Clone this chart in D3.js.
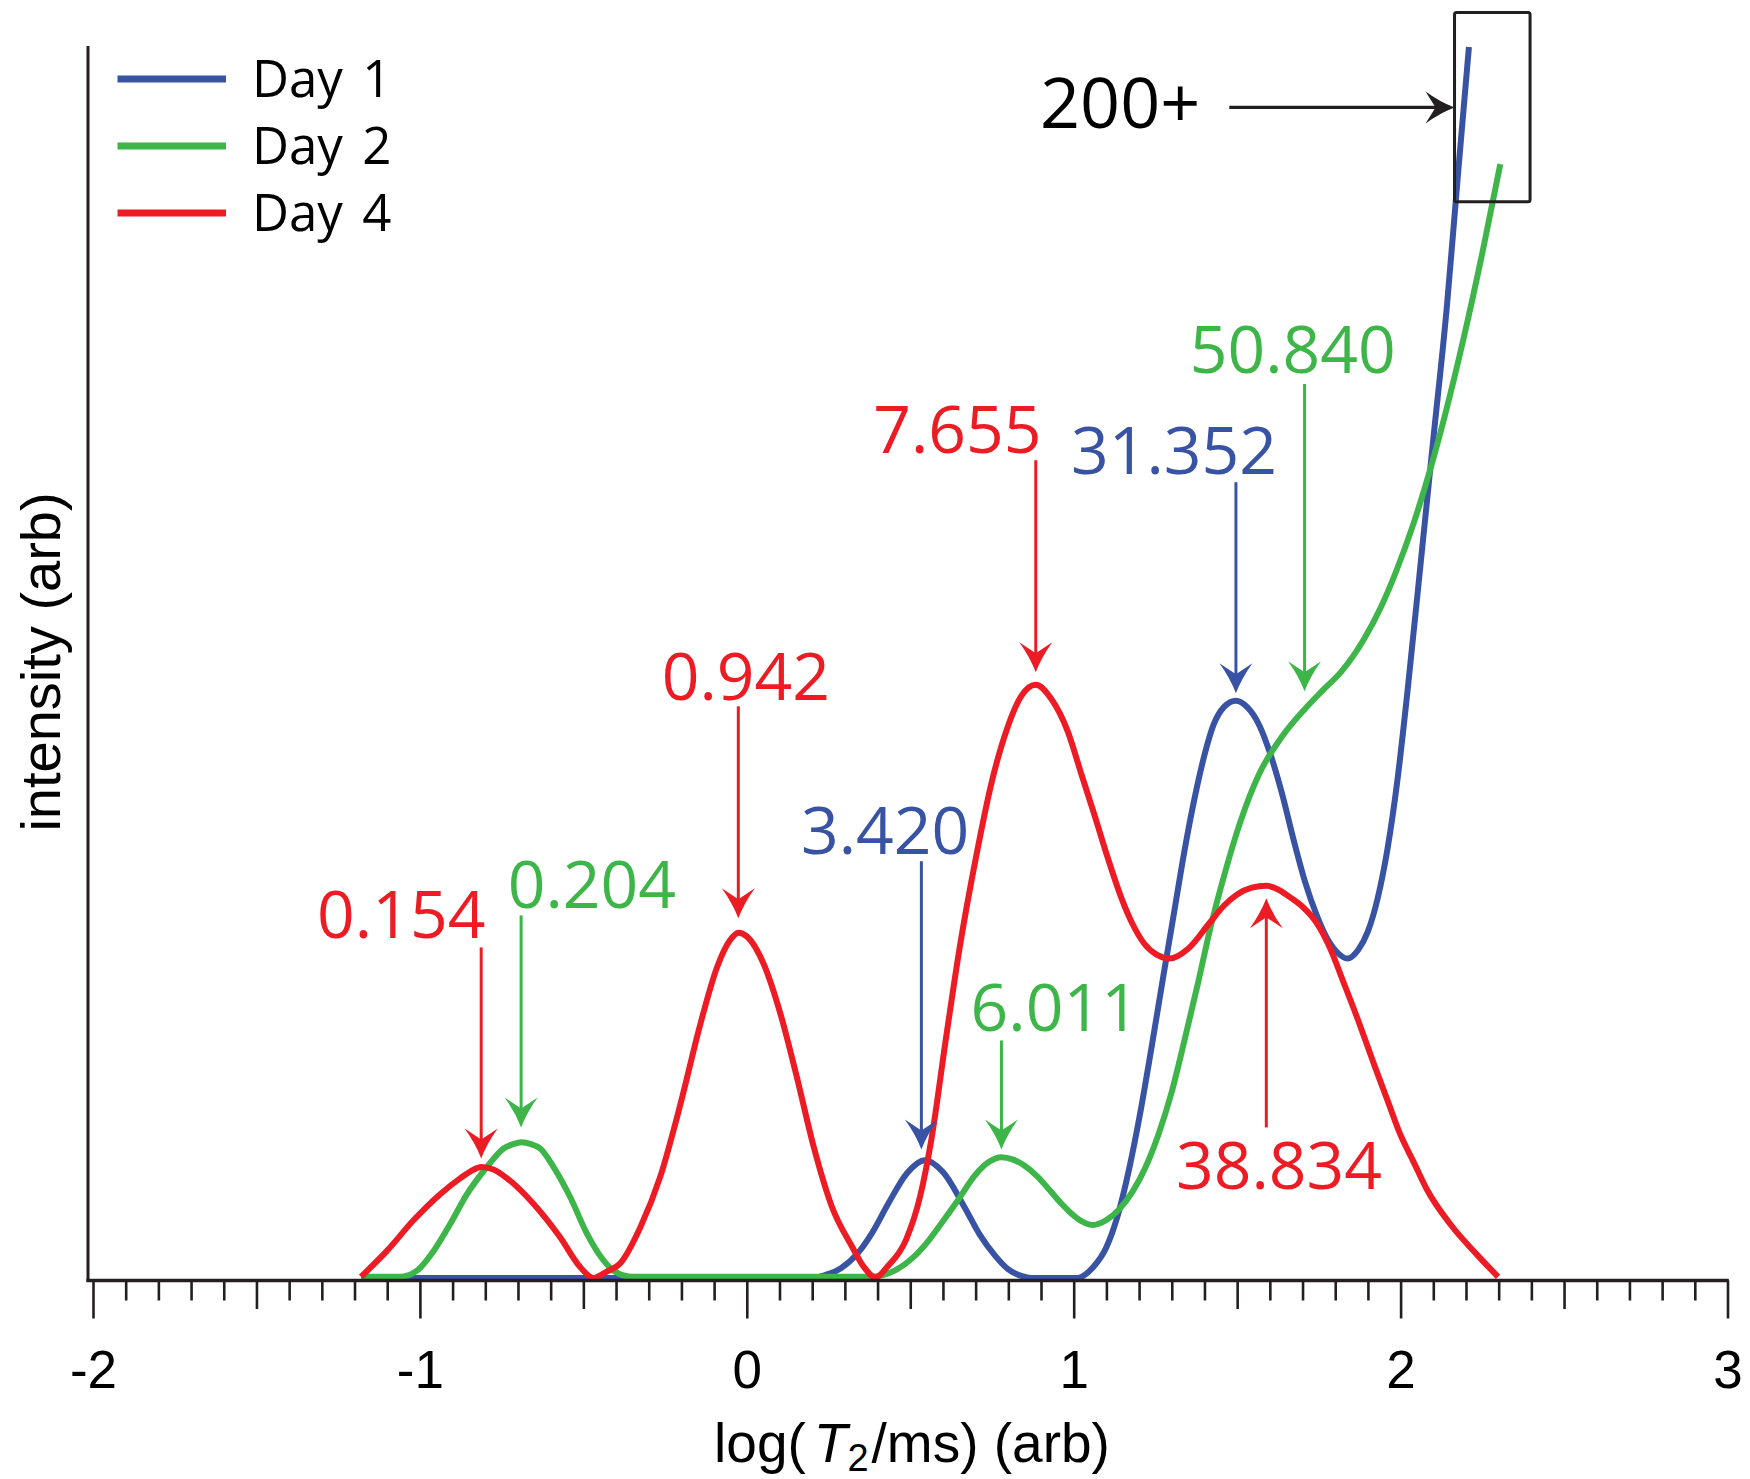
<!DOCTYPE html>
<html>
<head>
<meta charset="utf-8">
<script src="https://cdn.jsdelivr.net/npm/d3@7"></script>
<style>
  html, body { margin: 0; padding: 0; background: #ffffff; }
  svg { display: block; }
</style>
</head>
<body>
<svg id="chart" width="1750" height="1479"></svg>
<script>
// ---- data -------------------------------------------------------------
// T2 distributions, [log(T2/ms), intensity (arb)]
const seriesNames  = ["Day 1", "Day 2", "Day 4"];
const seriesColors = ["#3953a4", "#3db549", "#ed1c24"];

const day1 = [
  [-1.18,0.2],[0.20,0.2],[0.241,0.45],[0.288,1.0],[0.339,2.2],[0.382,3.8],[0.432,6.2],
  [0.49,8.7],[0.545,9.75],[0.60,8.8],[0.667,5.9],[0.713,3.7],[0.760,2.0],[0.80,0.9],
  [0.842,0.35],[0.87,0.2],[1.01,0.2],[1.06,1.1],[1.10,2.7],[1.135,5.3],[1.17,9.1],
  [1.205,13.8],[1.24,19.2],[1.275,24.8],[1.31,30.3],[1.34,35.0],[1.369,39.0],
  [1.40,42.6],[1.427,45.0],[1.46,46.5],[1.496,47.0],[1.53,46.5],[1.568,45.0],
  [1.60,42.8],[1.638,39.4],[1.672,35.8],[1.708,32.3],[1.745,29.5],[1.778,27.6],
  [1.81,26.5],[1.837,26.1],[1.87,26.8],[1.90,28.3],[1.93,31.0],[1.96,35.0],
  [1.99,40.5],[2.02,47.5],[2.06,57.8],[2.10,68.2],[2.141,78.8],[2.175,89.5],[2.209,100]
];

const day2 = [
  [-1.18,0.3],[-1.06,0.3],[-1.009,0.8],[-0.958,2.4],[-0.907,4.6],[-0.856,7.0],
  [-0.795,9.2],[-0.744,10.7],[-0.715,11.05],[-0.690,11.2],[-0.66,11.05],[-0.632,10.7],
  [-0.591,9.2],[-0.540,6.75],[-0.489,3.8],[-0.446,1.9],[-0.408,0.8],[-0.35,0.3],
  [0.38,0.3],[0.452,0.8],[0.514,2.0],[0.558,3.3],[0.60,4.8],[0.643,6.4],[0.70,8.6],
  [0.74,9.6],[0.779,10.0],[0.815,9.8],[0.85,9.3],[0.89,8.4],[0.924,7.4],[0.96,6.3],
  [0.99,5.5],[1.025,4.8],[1.059,4.5],[1.10,4.9],[1.14,5.8],[1.18,7.2],[1.22,9.2],
  [1.26,11.9],[1.30,15.3],[1.34,19.6],[1.381,24.2],[1.42,28.8],[1.462,33.0],[1.51,37.2],
  [1.568,41.1],[1.64,44.2],[1.706,46.3],[1.76,47.8],[1.82,49.4],[1.886,51.9],[1.94,54.6],
  [1.988,57.6],[2.04,61.4],[2.09,65.7],[2.14,70.6],[2.192,76.3],[2.25,83.3],[2.305,90.5]
];

const day4 = [
  [-1.18,0.3],[-1.101,2.4],[-1.019,4.9],[-0.938,7.0],[-0.876,8.3],[-0.845,8.85],
  [-0.812,9.2],[-0.775,9.0],[-0.734,8.3],[-0.652,6.2],[-0.571,3.5],[-0.51,1.1],
  [-0.469,0.2],[-0.43,0.7],[-0.387,1.4],[-0.326,4.3],[-0.265,8.4],[-0.203,14.3],
  [-0.142,20.8],[-0.091,25.4],[-0.051,27.6],[-0.026,28.2],[0.0,27.9],[0.051,25.7],
  [0.102,21.7],[0.153,16.5],[0.204,10.9],[0.26,6.0],[0.323,2.7],[0.358,1.1],[0.394,0.25],
  [0.429,1.1],[0.487,3.3],[0.53,6.8],[0.565,11.5],[0.608,19.4],[0.65,26.8],[0.701,34.3],
  [0.75,40.5],[0.797,44.8],[0.84,47.4],[0.884,48.3],[0.93,47.2],[0.982,44.5],[1.024,41.0],
  [1.064,37.7],[1.105,34.2],[1.146,31.0],[1.18,28.9],[1.216,27.3],[1.255,26.4],[1.293,26.1],
  [1.35,26.9],[1.416,29.0],[1.46,30.4],[1.50,31.3],[1.545,31.85],[1.589,32.0],[1.625,31.7],
  [1.66,31.1],[1.70,30.3],[1.743,29.0],[1.785,26.9],[1.825,24.2],[1.87,21.1],[1.919,17.5],
  [1.96,14.6],[1.998,11.9],[2.04,9.6],[2.08,7.4],[2.154,4.5],[2.23,2.2],[2.298,0.3]
];

const seriesData = [day1, day2, day4];

// peak T2 values (ms) and the series each one belongs to
const peakT2     = ["0.154", "0.204", "0.942", "3.420", "6.011", "7.655", "31.352", "50.840", "38.834"];
const peakSeries = [2, 1, 2, 0, 1, 2, 0, 1, 2];

const xTickLabels = ["-2", "-1", "0", "1", "2", "3"];

// ---- layout -----------------------------------------------------------
// label centre (log T2), label baseline, arrow start and arrow tip (intensity units)
const labelX    = [-1.057, -0.474, -0.003, 0.423, 0.942, 0.644, 1.307, 1.670, 1.628];
const labelY    = [27.74, 30.17, 47.04, 34.55, 20.22, 67.07, 65.37, 73.58, 7.38];
const arrowFrom = [27.0, 29.6, 46.55, 33.98, 19.46, 66.5, 64.72, 72.67, 12.41];
const arrowTo   = [9.89, 12.41, 29.36, 10.62, 10.62, 49.31, 47.61, 47.77, 30.98];

const ink = "#231f20";
const sansAxis = "'Liberation Sans', Arial, Helvetica, sans-serif";
const sansNote = "'Open Sans', 'Noto Sans', sans-serif";

const svg = d3.select("#chart");

const x = d3.scaleLinear().domain([-2, 3]).range([93, 1727.5]);
const y = d3.scaleLinear().domain([0, 100]).range([1280.5, 47]);
const yAxisX = x(-2) - 5;

// ---- curves -------------------------------------------------------------
const line = d3.line()
  .x(d => x(d[0]))
  .y(d => y(d[1]))
  .curve(d3.curveMonotoneX);

svg.append("g").attr("class", "curves")
  .selectAll("path")
  .data(seriesData)
  .join("path")
  .attr("d", line)
  .attr("fill", "none")
  .attr("stroke", (d, i) => seriesColors[i])
  .attr("stroke-width", 6)
  .attr("stroke-linejoin", "round");

// ---- axes ---------------------------------------------------------------
const axisY0 = y(0);

// y axis: plain vertical rule
svg.append("line")
  .attr("x1", yAxisX).attr("x2", yAxisX)
  .attr("y1", y(100) - 1).attr("y2", axisY0 + 1.5)
  .attr("stroke", ink).attr("stroke-width", 3);

// x axis: minor, half and whole-decade ticks
const minorVals = d3.range(-20, 31).map(v => v / 10).filter(v => Math.abs(v * 2 - Math.round(v * 2)) > 1e-6);
const halfVals  = [-1.5, -0.5, 0.5, 1.5, 2.5];
const majorVals = [-2, -1, 0, 1, 2, 3];

function tickLayer(vals, size, labels) {
  const ax = d3.axisBottom(x).tickValues(vals).tickSize(size).tickSizeOuter(0)
    .tickFormat((d, i) => labels ? labels[i] : "");
  const g = svg.append("g").attr("transform", `translate(0,${axisY0})`).call(ax);
  g.select(".domain").remove();
  g.selectAll(".tick line").attr("stroke", ink).attr("stroke-width", 2.6);
  if (!labels) g.selectAll(".tick text").remove();
  return g;
}
tickLayer(minorVals, 20, null);
tickLayer(halfVals, 28.5, null);
const majorG = tickLayer(majorVals, 38, xTickLabels);
majorG.selectAll(".tick text")
  .attr("y", 107).attr("dy", 0)
  .attr("fill", "#000")
  .attr("font-family", sansAxis)
  .attr("font-size", 53);

svg.append("line")
  .attr("x1", yAxisX - 1.5).attr("x2", x(3) + 1.3)
  .attr("y1", axisY0).attr("y2", axisY0)
  .attr("stroke", ink).attr("stroke-width", 3.4);

// axis titles
const xTitle = svg.append("text")
  .attr("x", 912).attr("y", 1462)
  .attr("text-anchor", "middle")
  .attr("font-family", sansAxis).attr("font-size", 55).attr("fill", "#000");
xTitle.append("tspan").text("log(");
xTitle.append("tspan").attr("dx", 8).attr("font-style", "italic").text("T");
xTitle.append("tspan").attr("font-size", 38).attr("dy", 9).text("2");
xTitle.append("tspan").attr("dy", -9).attr("dx", 3).text("/ms) (arb)");

svg.append("text")
  .attr("transform", `translate(60,662) rotate(-90)`)
  .attr("text-anchor", "middle")
  .attr("font-family", sansAxis).attr("font-size", 56).attr("fill", "#000")
  .text("intensity (arb)");

// ---- legend -------------------------------------------------------------
const legend = svg.append("g").attr("class", "legend");
seriesNames.forEach((name, i) => {
  const ly = 79 + i * 67;
  legend.append("line")
    .attr("x1", 117.5).attr("x2", 226).attr("y1", ly).attr("y2", ly)
    .attr("stroke", seriesColors[i]).attr("stroke-width", 7);
  legend.append("text")
    .attr("x", 252).attr("y", ly + 17.5)
    .attr("font-family", sansNote).attr("font-size", 51).attr("fill", "#000")
    .attr("word-spacing", 6)
    .text(name);
});

// ---- peak annotations ----------------------------------------------------
function headPath(tx, ty, ux, uy, L = 30, W = 16.5, N = 19) {
  const px = -uy, py = ux;
  const bx = tx - ux * L, by = ty - uy * L;
  const c1x = bx + px * W, c1y = by + py * W;
  const c2x = bx - px * W, c2y = by - py * W;
  // slightly concave flanks
  const m1x = (tx + c1x) / 2 - px * 2.5, m1y = (ty + c1y) / 2 - py * 2.5;
  const m2x = (tx + c2x) / 2 + px * 2.5, m2y = (ty + c2y) / 2 + py * 2.5;
  return `M${tx},${ty}Q${m1x},${m1y} ${c1x},${c1y}L${tx - ux * N},${ty - uy * N}` +
         `L${c2x},${c2y}Q${m2x},${m2y} ${tx},${ty}Z`;
}

const notes = svg.append("g").attr("class", "notes");
peakT2.forEach((label, i) => {
  const col = seriesColors[peakSeries[i]];
  const ax = x(Math.log10(+label));
  const y0 = y(arrowFrom[i]), y1 = y(arrowTo[i]);
  const dir = y1 > y0 ? 1 : -1;
  notes.append("line")
    .attr("x1", ax).attr("x2", ax)
    .attr("y1", y0).attr("y2", y1 - dir * 18)
    .attr("stroke", col).attr("stroke-width", 3);
  notes.append("path")
    .attr("d", headPath(ax, y1, 0, dir))
    .attr("fill", col);
  notes.append("text")
    .attr("x", x(labelX[i])).attr("y", y(labelY[i]))
    .attr("text-anchor", "middle")
    .attr("font-family", sansNote).attr("font-size", 66).attr("fill", col)
    .text(label);
});

// ---- off-scale marker -----------------------------------------------------
const boxX0 = x(2.165), boxX1 = x(2.396);
const boxY0 = y(102.8), boxY1 = y(87.45);
svg.append("rect")
  .attr("x", boxX0).attr("y", boxY0)
  .attr("width", boxX1 - boxX0).attr("height", boxY1 - boxY0)
  .attr("rx", 2)
  .attr("fill", "none").attr("stroke", ink).attr("stroke-width", 3);

const markY = y(95.1);
svg.append("line")
  .attr("x1", x(1.476)).attr("x2", boxX0 - 18)
  .attr("y1", markY).attr("y2", markY)
  .attr("stroke", ink).attr("stroke-width", 3.3);
svg.append("path")
  .attr("d", headPath(boxX0, markY, 1, 0, 29, 16, 19))
  .attr("fill", ink);

svg.append("text")
  .attr("x", x(1.387)).attr("y", y(93.4))
  .attr("text-anchor", "end")
  .attr("font-family", sansNote).attr("font-size", 70).attr("fill", "#000")
  .text("200+");
</script>
</body>
</html>
